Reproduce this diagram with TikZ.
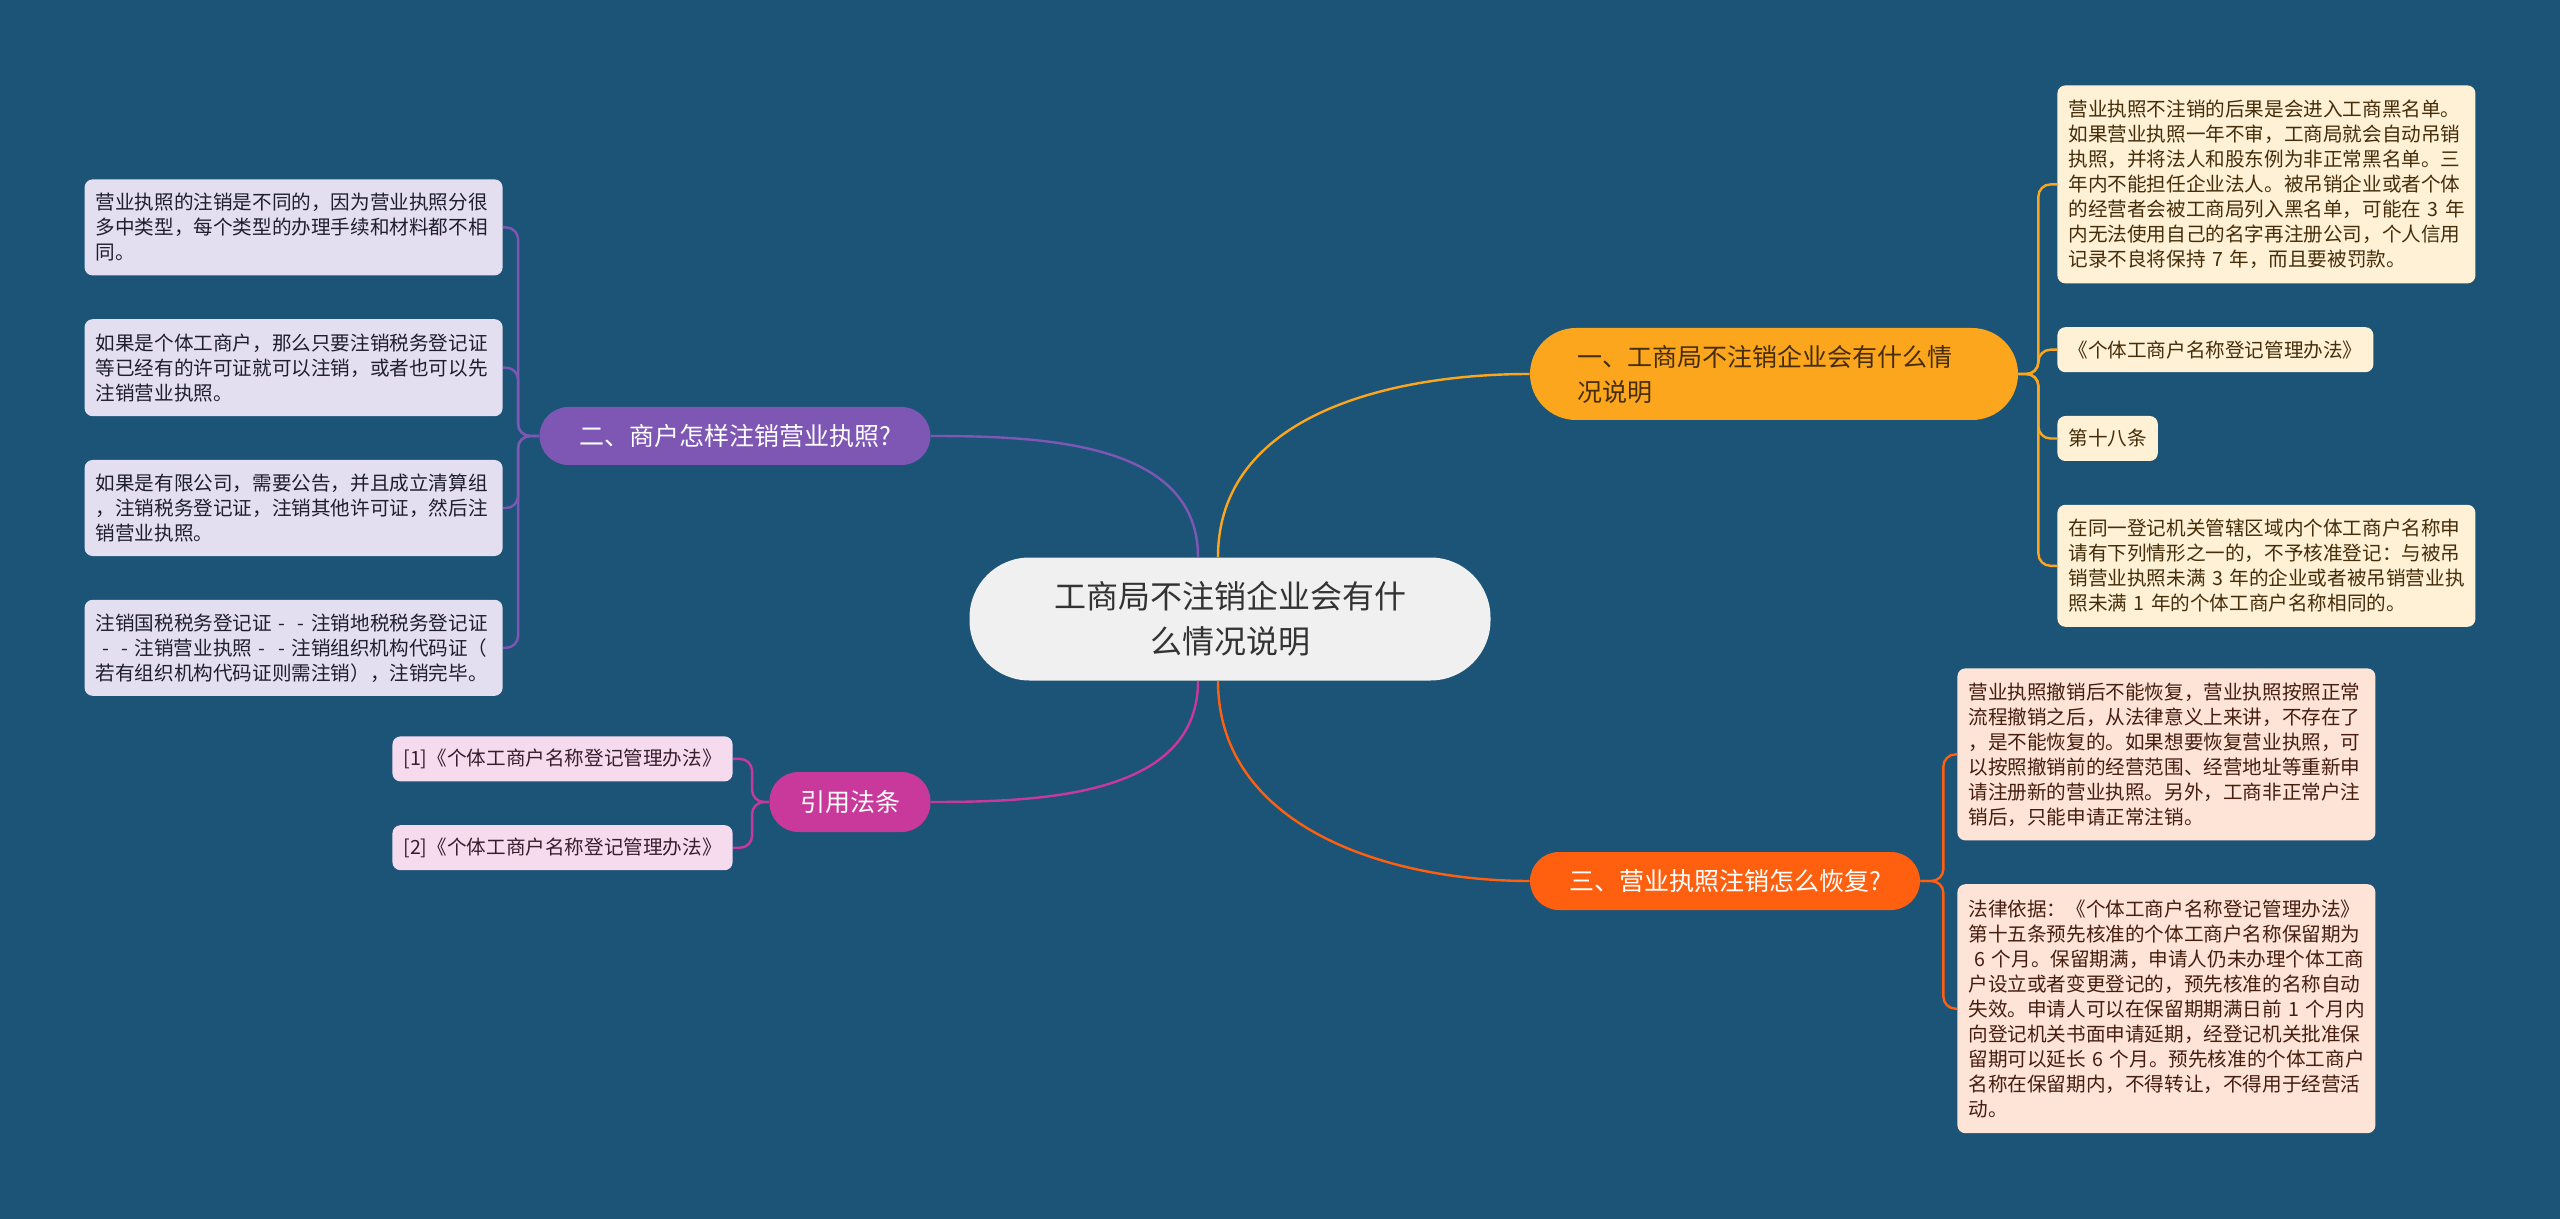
\documentclass[tikz,border=0pt]{standalone}
\usepackage{fontspec}
\setmainfont{Noto Sans CJK SC}
\usetikzlibrary{positioning}

\definecolor{bgblue}{RGB}{27,84,119}
\definecolor{rootfill}{RGB}{240,240,240}
\definecolor{goldA}{RGB}{252,166,30}
\definecolor{violetB}{RGB}{126,87,181}
\definecolor{orangeC}{RGB}{255,96,16}
\definecolor{magentaD}{RGB}{200,57,155}
\definecolor{creamA}{RGB}{254,241,214}
\definecolor{lilacB}{RGB}{228,223,240}
\definecolor{peachC}{RGB}{253,228,214}
\definecolor{pinkD}{RGB}{246,218,238}
\definecolor{inkA}{RGB}{70,45,10}
\definecolor{inkB}{RGB}{30,30,45}
\definecolor{inkC}{RGB}{70,30,15}
\definecolor{inkD}{RGB}{55,30,45}
\newcommand{\dsh}{\makebox[1em]{-}}

\begin{document}
\begin{tikzpicture}[
  x=0.5pt, y=0.5pt,
  node distance=21.5pt,
  root/.style={fill=rootfill, text=black!80, rounded corners=30pt,
    minimum width=260.5pt, minimum height=61.5pt, align=center,
    font=\fontsize{16}{22.5}\selectfont},
  topic/.style={rounded corners=14.5pt, minimum height=29pt, text=white,
    font=\fontsize{12.5}{17.5}\selectfont},
  leaf/.style={rounded corners=4pt, inner xsep=5.5pt, inner ysep=0pt,
    align=left, font=\fontsize{9.8}{12.5}\selectfont},
  wide/.style={text width=198pt},
  leafA/.style={leaf, fill=creamA, text=inkA},
  leafB/.style={leaf, fill=lilacB, text=inkB},
  leafC/.style={leaf, fill=peachC, text=inkC},
  leafD/.style={leaf, fill=pinkD, text=inkD},
  link/.style={line width=1.2pt, rounded corners=6pt},
  linkA/.style={link, draw=goldA},
  linkB/.style={link, draw=violetB},
  linkC/.style={link, draw=orangeC},
  linkD/.style={link, draw=magentaD}
]
\fill[bgblue] (0,0) rectangle (2560,-1219);

% centre and main topics
\node[root] (root) at (1230,-619) {工商局不注销企业会有什\\么情况说明};
\node[topic, fill=goldA, text=inkA, rounded corners=23pt, minimum height=46pt,
  text width=197pt, inner xsep=23.5pt, align=left] (t1) at (1774,-374)
  {一、工商局不注销企业会有什么情\\况说明};
\node[topic, fill=violetB, minimum width=195.5pt] (t2) at (735,-436) {二、商户怎样注销营业执照?};
\node[topic, fill=orangeC, minimum width=195pt] (t3) at (1725,-881) {三、营业执照注销怎么恢复?};
\node[topic, fill=magentaD, minimum width=80.5pt, minimum height=30pt] (t4) at (850,-802) {引用法条};

% first topic
\node[leafA, wide, minimum height=99pt, anchor=north west] (l1a) at (2057,-85)
  {营业执照不注销的后果是会进入工商黑名单。\\
   如果营业执照一年不审，工商局就会自动吊销\\
   执照，并将法人和股东例为非正常黑名单。三\\
   年内不能担任企业法人。被吊销企业或者个体\\
   的经营者会被工商局列入黑名单，可能在~3~年\\
   内无法使用自己的名字再注册公司，个人信用\\
   记录不良将保持~7~年，而且要被罚款。};
\node[leafA, minimum height=22.5pt, below=of l1a.south west, anchor=north west] (l1b)
  {《个体工商户名称登记管理办法》};
\node[leafA, minimum height=22.5pt, below=of l1b.south west, anchor=north west] (l1c)
  {第十八条};
\node[leafA, wide, minimum height=61pt, below=of l1c.south west, anchor=north west] (l1d)
  {在同一登记机关管辖区域内个体工商户名称申\\
   请有下列情形之一的，不予核准登记：与被吊\\
   销营业执照未满~3~年的企业或者被吊销营业执\\
   照未满~1~年的个体工商户名称相同的。};

% second topic
\node[leafB, wide, minimum height=48pt, anchor=north east] (l2a) at (503,-179)
  {营业执照的注销是不同的，因为营业执照分很\\
   多中类型，每个类型的办理手续和材料都不相\\
   同。};
\node[leafB, wide, minimum height=48.5pt, below=of l2a] (l2b)
  {如果是个体工商户，那么只要注销税务登记证\\
   等已经有的许可证就可以注销，或者也可以先\\
   注销营业执照。};
\node[leafB, wide, minimum height=48pt, below=of l2b] (l2c)
  {如果是有限公司，需要公告，并且成立清算组\\
   ，注销税务登记证，注销其他许可证，然后注\\
   销营业执照。};
\node[leafB, wide, minimum height=48pt, below=of l2c] (l2d)
  {注销国税税务登记证\dsh\dsh 注销地税税务登记证\\
   \dsh\dsh 注销营业执照\dsh\dsh 注销组织机构代码证（\\
   若有组织机构代码证则需注销），注销完毕。};

% third topic
\node[leafC, wide, minimum height=86pt, anchor=north west] (l3a) at (1957,-668)
  {营业执照撤销后不能恢复，营业执照按照正常\\
   流程撤销之后，从法律意义上来讲，不存在了\\
   ，是不能恢复的。如果想要恢复营业执照，可\\
   以按照撤销前的经营范围、经营地址等重新申\\
   请注册新的营业执照。另外，工商非正常户注\\
   销后，只能申请正常注销。};
\node[leafC, wide, minimum height=124.5pt, below=of l3a] (l3b)
  {法律依据：《个体工商户名称登记管理办法》\\
   第十五条预先核准的个体工商户名称保留期为\\
   \hspace*{3pt}6~个月。保留期满，申请人仍未办理个体工商\\
   户设立或者变更登记的，预先核准的名称自动\\
   失效。申请人可以在保留期期满日前~1~个月内\\
   向登记机关书面申请延期，经登记机关批准保\\
   留期可以延长~6~个月。预先核准的个体工商户\\
   名称在保留期内，不得转让，不得用于经营活\\
   动。};

% references
\node[leafD, minimum height=22.5pt, anchor=north east] (l4a) at (733,-736)
  {[1]《个体工商户名称登记管理办法》};
\node[leafD, minimum height=22.5pt, below=of l4a.south east, anchor=north east] (l4b)
  {[2]《个体工商户名称登记管理办法》};

% forks
\coordinate[right=10pt of t1.east] (f1);
\coordinate[left=10.5pt of t2.west] (f2);
\coordinate[right=11.5pt of t3.east] (f3);
\coordinate[left=8.5pt of t4.west] (f4);

% centre to topics
\draw[linkA] ([xshift=-6pt]root.north) to[out=90,in=180] (t1.west);
\draw[linkB] ([xshift=-16pt]root.north) to[out=90,in=0] (t2.east);
\draw[linkC] ([xshift=-6pt]root.south) to[out=-90,in=180] (t3.west);
\draw[linkD] ([xshift=-16pt]root.south) to[out=-90,in=0] (t4.east);

% topics to leaves
\foreach \n in {l1a,l1b,l1c,l1d} \draw[linkA] (t1.east) -- (f1) |- (\n.west);
\foreach \n in {l2a,l2b,l2c,l2d} \draw[linkB] (t2.west) -- (f2) |- (\n.east);
\foreach \n in {l3a,l3b} \draw[linkC] (t3.east) -- (f3) |- (\n.west);
\foreach \n in {l4a,l4b} \draw[linkD] (t4.west) -- (f4) |- (\n.east);
\end{tikzpicture}
\end{document}
